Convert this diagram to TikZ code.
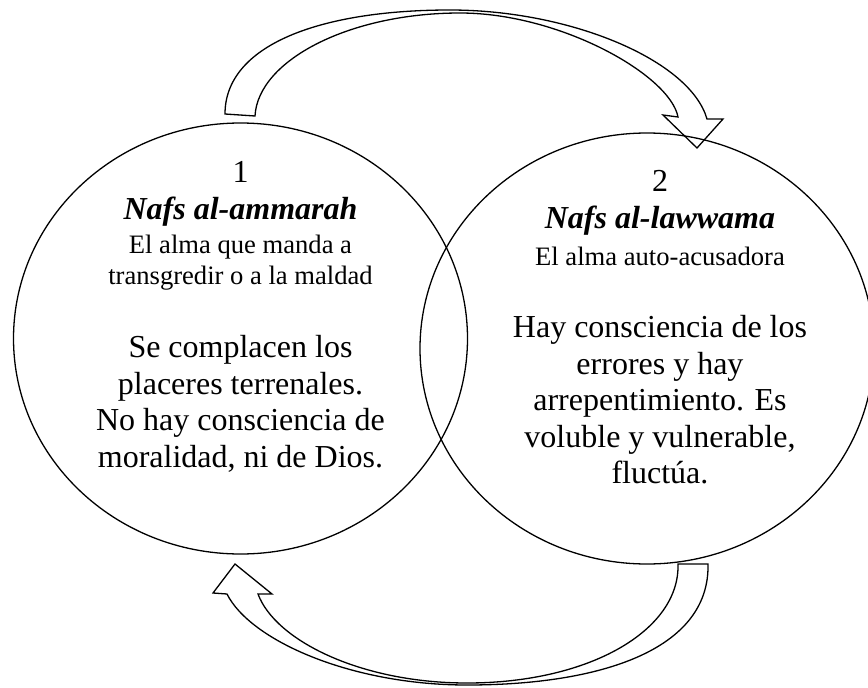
\documentclass[tikz,border=0pt]{standalone}
\usepackage{fontspec}
\setmainfont{Liberation Serif}
\usetikzlibrary{shapes.geometric}

\begin{document}
\begin{tikzpicture}[x=1pt, y=-1pt, node distance=406.5pt, line width=1.3pt,
    soul/.style = {draw, ellipse, minimum width=454pt, minimum height=431pt, inner sep=0pt},
    big/.style = {align=center, font=\fontsize{32}{37}\selectfont},
    small/.style = {align=center, font=\fontsize{26.6}{31}\selectfont}]
\useasboundingbox (0,0) rectangle (868,688);
          \node[soul] (n_1) at (240.5,338.5) {};
          \node[soul] (n_2) [right of=n_1, yshift=-10pt] {};

          \node[big] (t_1) at (240.5,194) {1\\\textbf{\textit{Nafs al-ammarah}}};
          \node[small] (s_1) at (240.5,262.5) {El alma que manda a\\transgredir o a la maldad};
          \node[big, font=\fontsize{32}{36.5}\selectfont] (b_1) at (240.5,404) {Se complacen los\\placeres terrenales.\\No hay consciencia de\\moralidad, ni de Dios.};

          \node[big] (t_2) at (660,203) {2\\\textbf{\textit{Nafs al-lawwama}}};
          \node[small] (s_2) at (660,256) {El alma auto-acusadora};
          \node[big, font=\fontsize{32}{36.5}\selectfont] (b_2) at (660,400) {Hay consciencia de los\\errores y hay\\arrepentimiento. Es\\voluble y vulnerable,\\fluctúa.};

          % 1 -> 2
          \draw (225,114) .. controls (225,45) and (320,10) .. (450,10)
            .. controls (570,10) and (690,60) .. (707,119) -- (723,119) -- (697,148) -- (663,115) -- (678,117)
            .. controls (670,75) and (560,13) .. (460,13) .. controls (350,13) and (258,60) .. (255,116) -- cycle;
          % 2 -> 1
          \draw (708,564) .. controls (710,650) and (600,685) .. (467,685)
            .. controls (350,685) and (250,640) .. (227,594) -- (213,593) -- (235,564) -- (272,594) -- (258,594)
            .. controls (275,640) and (360,683) .. (467,683) .. controls (590,683) and (680,630) .. (678,564) -- cycle;
        \end{tikzpicture}
\end{document}
